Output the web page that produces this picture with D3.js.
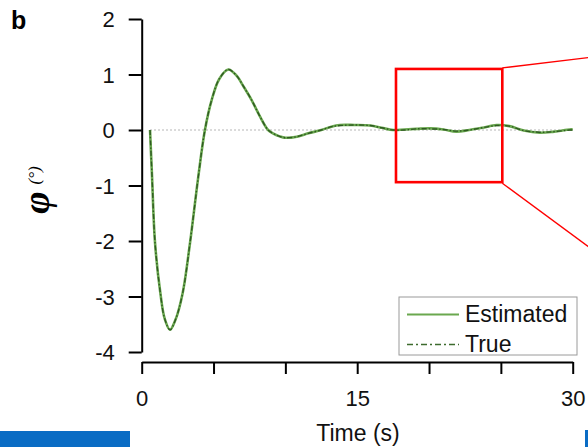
<!DOCTYPE html>
<html>
<head>
<meta charset="utf-8">
<script src="https://cdn.jsdelivr.net/npm/d3@7"></script>
<style>
  body { margin: 0; background: #fff; }
  text { font-family: "Liberation Sans", Arial, sans-serif; }
</style>
</head>
<body>
<div id="chart"></div>
<script>
// time (s) of the sampled points
var time = [0.58, 0.72, 0.93, 1.3, 1.6, 1.97, 2.35, 2.85, 3.36, 3.94, 4.4, 4.87, 5.4, 6.03,
            6.6, 7.1, 7.65, 8.2, 8.8, 9.2, 9.6, 10.0, 10.8, 11.6, 12.5, 13.2, 13.8, 14.8, 15.9,
            16.7, 17.5, 18.3, 19.1, 20.1, 21.0, 21.9, 22.8, 23.7, 24.7, 25.6, 26.6, 27.7,
            28.7, 29.8, 30.0];
// phi (deg), estimated and true
var estimated = [0, -0.84, -2.04, -2.94, -3.4, -3.6, -3.42, -2.94, -2.04, -0.84, 0, 0.54, 0.92, 1.09,
                 0.98, 0.78, 0.54, 0.26, 0.0, -0.07, -0.115, -0.14, -0.12, -0.06, 0, 0.06, 0.09, 0.09, 0.08,
                 0.04, 0, 0.01, 0.02, 0.03, 0.01, -0.03, 0.0, 0.04, 0.09, 0.07, -0.01, -0.05,
                 -0.03, 0.01, 0.01];
var truth = [0, -0.84, -2.04, -2.94, -3.4, -3.6, -3.42, -2.94, -2.04, -0.84, 0, 0.54, 0.92, 1.09,
             0.98, 0.78, 0.54, 0.26, 0.0, -0.07, -0.115, -0.14, -0.12, -0.06, 0, 0.06, 0.08, 0.09, 0.08,
             0.04, 0, 0.0, 0.02, 0.02, 0.01, -0.02, 0.0, 0.04, 0.08, 0.07, -0.01, -0.04,
             -0.03, 0.0, 0.0];
var yTicks = [2, 1, 0, -1, -2, -3, -4];
var xTicks = [0, 5, 10, 15, 20, 25, 30];
var xLabels = [0, 15, 30];
var seriesNames = ["Estimated", "True"];
// zoom box (time range, phi range) and where the connector lines go
var zoomBox = {t0: 17.7, t1: 25.1, v0: -0.94, v1: 1.1};
var connectEnds = [[31.6, 1.32], [31.6, -2.2]];

var W = 588, H = 447;
var x = d3.scaleLinear().domain([0, 30]).range([141.7, 572.7]),
    y = d3.scaleLinear().domain([-4, 2]).range([352, 19]);

var svg = d3.select("#chart").append("svg")
    .attr("width", W)
    .attr("height", H);

// blue page bits at the bottom
svg.append("rect").attr("x", 0).attr("y", 431).attr("width", 130).attr("height", 16).attr("fill", "#0a6cc4");
svg.append("rect").attr("x", 585).attr("y", 430).attr("width", 3).attr("height", 17).attr("fill", "#0a6cc4");

svg.append("text").attr("x", 11).attr("y", 29)
    .style("font-weight", "bold").style("font-size", "25px").text("b");

// zero reference
svg.append("line")
    .attr("x1", x(time[0])).attr("x2", x(30))
    .attr("y1", y(0)).attr("y2", y(0))
    .attr("stroke", "#b5b5b5").attr("stroke-width", 1.2).attr("stroke-dasharray", "2,2");

// y axis
var yAxis = svg.append("g").attr("transform", "translate(" + x(0) + ",0)")
    .call(d3.axisLeft(y).tickValues(yTicks).tickSize(13).tickSizeOuter(0).tickPadding(14)
        .tickFormat(function(d) { return String(d); }));
// x axis
var xAxis = svg.append("g").attr("transform", "translate(0,362)")
    .call(d3.axisBottom(x).tickValues(xTicks).tickSize(12).tickSizeOuter(0).tickPadding(16)
        .tickFormat(function(d) { return xLabels.indexOf(d) >= 0 ? String(d) : ""; }));
[yAxis, xAxis].forEach(function(a) {
    a.select(".domain").attr("stroke", "#000").attr("stroke-width", 2);
    a.selectAll(".tick line").attr("stroke", "#000").attr("stroke-width", 2);
    a.selectAll(".tick text").style("font-size", "22px").attr("fill", "#111")
        .style("font-family", "'Liberation Sans', Arial, sans-serif");
});
yAxis.selectAll(".tick text").attr("dy", "0.35em");

// axis titles
svg.append("text").attr("x", 358).attr("y", 441).attr("text-anchor", "middle")
    .style("font-size", "23px").attr("fill", "#111").text("Time (s)");
var yt = svg.append("text").attr("transform", "translate(49,190) rotate(-90)")
    .attr("text-anchor", "middle");
yt.append("tspan").style("font-family", "'Liberation Serif', serif").style("font-style", "italic")
    .style("font-weight", "bold").style("font-size", "38px").text("φ");
yt.append("tspan").attr("dx", 7).attr("dy", -9).style("font-family", "'Liberation Serif', serif")
    .style("font-style", "italic").style("font-size", "17px").text("(°)");

// curves
var line = d3.line()
    .x(function(d) { return x(d[0]); })
    .y(function(d) { return y(d[1]); })
    .curve(d3.curveCatmullRom.alpha(0.5));

svg.append("path").datum(d3.zip(time, estimated))
    .attr("fill", "none").attr("stroke", "#6aa84f").attr("stroke-width", 2.6)
    .attr("d", line);
svg.append("path").datum(d3.zip(time, truth))
    .attr("fill", "none").attr("stroke", "#2f5a22").attr("stroke-width", 1.4)
    .attr("stroke-dasharray", "5,2,1.5,2")
    .attr("d", line);

// zoom box and connectors
svg.append("rect")
    .attr("x", x(zoomBox.t0)).attr("y", y(zoomBox.v1))
    .attr("width", x(zoomBox.t1) - x(zoomBox.t0)).attr("height", y(zoomBox.v0) - y(zoomBox.v1))
    .attr("fill", "none").attr("stroke", "#ff0000").attr("stroke-width", 2.6);
[[zoomBox.v1, connectEnds[0]], [zoomBox.v0, connectEnds[1]]].forEach(function(c) {
    svg.append("line")
        .attr("x1", x(zoomBox.t1)).attr("y1", y(c[0]) + (c[0] > 0 ? -1 : 1))
        .attr("x2", x(c[1][0])).attr("y2", y(c[1][1]))
        .attr("stroke", "#ff0000").attr("stroke-width", 1.3);
});

// legend
var lg = svg.append("g").attr("transform", "translate(399,297)");
lg.append("rect").attr("width", 178).attr("height", 58)
    .attr("fill", "#fff").attr("stroke", "#9a9a9a").attr("stroke-width", 1);
seriesNames.forEach(function(n, i) {
    var yy = 17.5 + i * 30;
    lg.append("line").attr("x1", 8).attr("x2", 60).attr("y1", yy).attr("y2", yy)
        .attr("stroke", i === 0 ? "#6aa84f" : "#3d6b2e").attr("stroke-width", i === 0 ? 1.8 : 1.6)
        .attr("stroke-dasharray", i === 0 ? null : "6,3,2,3");
    lg.append("text").attr("x", 66).attr("y", yy + 7.5)
        .style("font-size", "23px").attr("fill", "#111").text(n);
});
</script>
</body>
</html>
